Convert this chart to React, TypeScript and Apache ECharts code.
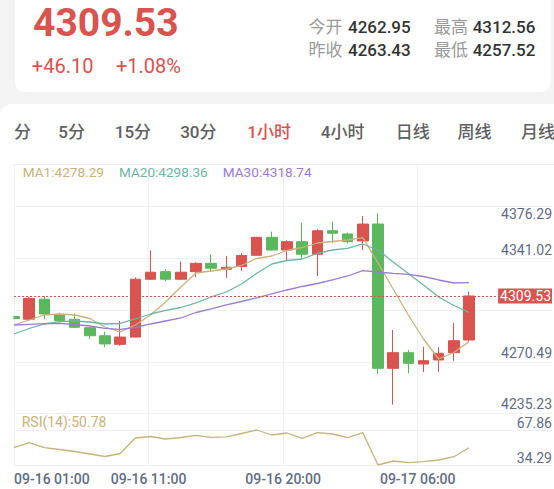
import React, { useEffect, useRef } from 'react';
import * as echarts from 'echarts';

const FONT = 'Roboto, "Noto Sans CJK SC", sans-serif';
const RED = '#d9534f';
const GREEN = '#5cb85c';
const TAN = '#c9b27c';
const TEAL = '#6db6a4';
const PURPLE = '#9a7dd3';
const AXIS_TEXT = '#5f6c88';
const GRID_LINE = '#f0f0f0';

// ---- data ----
const candleOpen = [4295.5, 4293.6, 4307.3, 4296.5, 4293.6, 4287.8, 4282.3, 4276.4, 4281.4, 4321.0, 4326.2, 4321.0, 4326.2, 4331.9, 4327.8, 4329.7, 4337.4, 4349.7, 4341.0, 4346.7, 4338.1, 4354.2, 4352.0, 4347.2, 4358.8, 4260.0, 4270.7, 4262.95, 4265.7, 4270.7, 4279.4];
const candleClose = [4294.1, 4307.9, 4297.2, 4292.6, 4288.1, 4282.3, 4276.7, 4281.4, 4321.0, 4325.8, 4321.0, 4325.8, 4331.9, 4328.5, 4329.2, 4337.3, 4349.7, 4341.0, 4346.7, 4338.1, 4354.2, 4352.5, 4346.7, 4358.8, 4260.0, 4270.7, 4263.43, 4265.2, 4270.3, 4278.9, 4309.53];
const candleLow = [4293.4, 4292.6, 4293.6, 4291.2, 4287.6, 4280.1, 4274.4, 4275.5, 4281.2, 4320.5, 4319.8, 4320.5, 4322.5, 4326.2, 4321.9, 4326.8, 4337.1, 4340.5, 4334.2, 4334.9, 4323.2, 4345.6, 4345.6, 4341.0, 4256.1, 4235.23, 4256.6, 4257.52, 4257.7, 4265.2, 4278.2];
const candleHigh = [4296.2, 4309.0, 4309.5, 4298.1, 4297.7, 4288.3, 4285.1, 4292.4, 4322.3, 4340.8, 4327.8, 4333.0, 4332.6, 4338.1, 4336.9, 4338.8, 4350.1, 4353.6, 4347.9, 4359.7, 4355.2, 4360.4, 4352.9, 4364.3, 4366.2, 4286.2, 4272.5, 4274.8, 4274.4, 4291.2, 4312.56];

const ma1 = [4289.66, 4293.08, 4296.51, 4297.19, 4296.51, 4294.11, 4288.29, 4284.87, 4289.66, 4296.51, 4305.41, 4315.68, 4325.27, 4326.64, 4328.01, 4330.41, 4335.2, 4336.91, 4340.68, 4342.73, 4345.81, 4346.84, 4347.87, 4349.44, 4332.12, 4314.31, 4296.51, 4280.07, 4266.38, 4270.83, 4278.29];
const ma20 = [4283.5, 4287.26, 4290.35, 4291.92, 4292.4, 4291.71, 4290.35, 4290.69, 4293.77, 4297.19, 4299.73, 4301.64, 4304.73, 4308.84, 4312.26, 4317.74, 4325.06, 4331.43, 4333.83, 4334.85, 4338.76, 4341.02, 4342.18, 4345.13, 4341.02, 4332.8, 4324.93, 4317.05, 4308.84, 4303.01, 4298.36];
const ma30 = [4289.66, 4290.14, 4290.55, 4290.82, 4290.0, 4288.98, 4287.4, 4286.72, 4287.95, 4290.35, 4292.4, 4294.46, 4298.22, 4300.62, 4303.36, 4305.75, 4308.29, 4310.89, 4313.63, 4316.03, 4318.08, 4320.48, 4323.22, 4326.84, 4325.95, 4325.06, 4324.38, 4322.87, 4320.48, 4318.42, 4318.74];
const rsi14 = [50.88, 55.68, 50.88, 49.16, 47.24, 44.84, 42.44, 45.32, 60.19, 61.63, 59.23, 60.67, 62.78, 60.86, 61.34, 64.5, 67.86, 63.06, 64.98, 59.9, 65.27, 64.02, 60.47, 65.27, 34.29, 38.13, 36.5, 37.46, 39.09, 42.25, 50.78];

const priceTickValues = [4235.23, 4270.49, 4341.02, 4376.29];
const timeTickLabels = ['09-16 01:00', '09-16 11:00', '09-16 20:00', '09-17 06:00'];

const dayOpen = 4262.95;
const prevClose = 4263.43;
const dayHigh = 4312.56;
const dayLow = 4257.52;

const tabs = ['分', '5分', '15分', '30分', '1小时', '4小时', '日线', '周线', '月线'];
const activeTab = '1小时';
const tabLeft = [14, 58.3, 114.8, 180.2, 247.3, 320.8, 395.7, 457.5, 521];

const fmt = (v: number) => v.toFixed(2);

function Chart() {
  const ref = useRef<HTMLDivElement>(null);
  useEffect(() => {
    if (!ref.current) return;
    const chart = echarts.init(ref.current, undefined, { renderer: 'svg' });
    const n = candleClose.length;
    const cats = candleClose.map((_, i) => String(i));
    const kData = candleOpen.map((o, i) => [o, candleClose[i], candleLow[i], candleHigh[i]]);
    const lastClose = candleClose[n - 1];
    const lastOf: Record<string, number> = {
      MA1: ma1[n - 1],
      MA20: ma20[n - 1],
      MA30: ma30[n - 1],
      'RSI(14)': rsi14[n - 1],
    };
    const rsiMin = Math.min(...rsi14);
    const rsiMax = Math.max(...rsi14);
    const topTick = Math.max(...priceTickValues);

    const hiddenAxis = {
      axisLine: { show: false },
      axisTick: { show: false },
      axisLabel: { show: false },
    };
    const lineSplit = (extra: any) => ({
      show: true,
      lineStyle: { color: GRID_LINE, width: 1 },
      ...extra,
    });

    const option: any = {
      animation: false,
      backgroundColor: 'transparent',
      textStyle: { fontFamily: FONT },
      grid: [
        { left: 14, width: 546, top: 164, height: 250, outerBoundsMode: 'none' },
        { left: 14, width: 546, top: 413, height: 52, outerBoundsMode: 'none' },
        { left: 14, width: 538.3, top: 164, height: 250, outerBoundsMode: 'none' },
        { left: 14, width: 538.3, top: 413, height: 52, outerBoundsMode: 'none' },
      ],
      // white mask left of the plot edge, so the first candle shows only its inner half
      graphic: [
        { type: 'rect', left: 0, top: 166, shape: { width: 13.5, height: 247 }, style: { fill: '#ffffff' }, z: 100, silent: true },
      ],
      legend: [
        {
          data: [
            { name: 'MA1', textStyle: { color: TAN } },
            { name: 'MA20', textStyle: { color: TEAL } },
            { name: 'MA30', textStyle: { color: PURPLE } },
          ],
          left: 17.7,
          top: 165.2,
          padding: 0,
          itemGap: 10,
          itemWidth: 0,
          itemHeight: 14,
          icon: 'none',
          selectedMode: false,
          textStyle: { fontSize: 13.6, lineHeight: 14, fontFamily: FONT },
          formatter: (name: string) => `${name}:${fmt(lastOf[name])}`,
        },
        {
          data: [{ name: 'RSI(14)', textStyle: { color: TAN } }],
          left: 16.7,
          top: 414.7,
          padding: 0,
          itemWidth: 0,
          itemHeight: 14,
          icon: 'none',
          selectedMode: false,
          textStyle: { fontSize: 14, lineHeight: 14, fontFamily: FONT },
          formatter: (name: string) => `${name}:${fmt(lastOf[name])}`,
        },
      ],
      xAxis: [
        { type: 'category', gridIndex: 0, data: cats, boundaryGap: false, max: 36, show: false },
        { type: 'category', gridIndex: 1, data: cats, boundaryGap: false, max: 36, show: false },
        {
          type: 'value', gridIndex: 2, min: 0, max: 4, interval: 1, ...hiddenAxis,
          splitLine: lineSplit({ showMaxLine: false }),
        },
        {
          type: 'value', gridIndex: 3, min: 0, max: 4, interval: 1,
          axisLine: { show: false },
          axisTick: { show: false },
          axisLabel: {
            show: true,
            margin: 7,
            color: AXIS_TEXT,
            fontSize: 14,
            fontWeight: 500,
            fontFamily: FONT,
            showMaxLabel: false,
            alignMinLabel: 'left',
            formatter: (v: number) => timeTickLabels[Math.round(v)] ?? '',
          },
          splitLine: lineSplit({ showMaxLine: false }),
        },
      ],
      yAxis: [
        {
          type: 'value', gridIndex: 0, position: 'right', min: 4228.71, max: 4399.91, z: 5,
          splitLine: { show: false }, axisLine: { show: false }, axisTick: { show: false },
          axisLabel: {
            inside: true,
            margin: 8,
            color: AXIS_TEXT,
            fontSize: 14,
            fontFamily: FONT,
            customValues: [...priceTickValues, lastClose],
            formatter: (v: number) => {
              const s = fmt(v);
              if (Math.abs(v - lastClose) < 1e-6) return `{p|${s}}`;
              if (Math.abs(v - topTick) < 1e-6) return `{t|${s}}`;
              return `{n|${s}}`;
            },
            rich: {
              n: { color: AXIS_TEXT, fontSize: 14, fontFamily: FONT },
              t: { color: AXIS_TEXT, fontSize: 14, fontFamily: FONT, padding: [31, 0, 0, 0] },
              p: { color: '#ffffff', backgroundColor: RED, fontSize: 14, fontFamily: FONT, padding: [1, 1, 0, 2] },
            },
          },
        },
        {
          type: 'value', gridIndex: 1, position: 'right', min: 34.29, max: 84.17, z: 5,
          splitLine: { show: false }, axisLine: { show: false }, axisTick: { show: false },
          axisLabel: {
            inside: true,
            margin: 8,
            color: AXIS_TEXT,
            fontSize: 14,
            fontFamily: FONT,
            verticalAlign: 'bottom',
            lineHeight: 15,
            customValues: [rsiMin, rsiMax],
            formatter: (v: number) => fmt(v),
          },
        },
        {
          type: 'value', gridIndex: 2, min: 0, max: 250 / 52, interval: 1, ...hiddenAxis,
          splitLine: lineSplit({ showMinLine: false, showMaxLine: false }),
        },
        {
          type: 'value', gridIndex: 3, min: 0, max: 52, interval: 35, ...hiddenAxis,
          splitLine: lineSplit({}),
        },
      ],
      series: [
        {
          type: 'candlestick',
          name: 'K',
          xAxisIndex: 0,
          yAxisIndex: 0,
          data: kData,
          barWidth: 11,
          clip: true,
          itemStyle: { color: RED, color0: GREEN, borderColor: RED, borderColor0: GREEN, borderWidth: 1 },
          markLine: {
            symbol: ['none', 'none'],
            silent: true,
            animation: false,
            label: { show: false },
            lineStyle: { color: RED, type: [2, 2], width: 1 },
            data: [{ yAxis: lastClose }],
          },
        },
        { type: 'line', name: 'MA1', xAxisIndex: 0, yAxisIndex: 0, data: ma1, symbol: 'none', clip: true, lineStyle: { color: TAN, width: 1.3 }, itemStyle: { color: TAN } },
        { type: 'line', name: 'MA20', xAxisIndex: 0, yAxisIndex: 0, data: ma20, symbol: 'none', clip: true, lineStyle: { color: TEAL, width: 1.3 }, itemStyle: { color: TEAL } },
        { type: 'line', name: 'MA30', xAxisIndex: 0, yAxisIndex: 0, data: ma30, symbol: 'none', clip: true, lineStyle: { color: PURPLE, width: 1.3 }, itemStyle: { color: PURPLE } },
        { type: 'line', name: 'RSI(14)', xAxisIndex: 1, yAxisIndex: 1, data: rsi14, symbol: 'none', clip: true, lineStyle: { color: TAN, width: 1.3 }, itemStyle: { color: TAN } },
      ],
    };
    chart.setOption(option);
    return () => chart.dispose();
  }, []);
  return <div ref={ref} style={{ position: 'absolute', left: 0, top: 0, width: 554, height: 489 }} />;
}

const abs = (left: number, top: number, size: number, color: string, weight = 400): React.CSSProperties => ({
  position: 'absolute',
  left,
  top,
  fontSize: size,
  lineHeight: `${size}px`,
  color,
  fontWeight: weight,
  whiteSpace: 'nowrap',
  fontFamily: FONT,
});

export default function App() {
  const last = candleClose[candleClose.length - 1];
  const change = last - prevClose;
  const pct = (change / prevClose) * 100;
  const sign = change >= 0 ? '+' : '';
  return (
    <div style={{ position: 'fixed', left: 0, top: 0, width: 554, height: 489, background: '#f4f4f4', overflow: 'hidden', fontFamily: FONT }}>
      <div style={{ position: 'absolute', left: 15, top: -12, width: 536, height: 104, background: '#fff', borderRadius: 10 }} />
      <div style={{ position: 'absolute', left: 0, top: 104, width: 600, height: 420, background: '#fff', borderRadius: 12 }} />
      <div style={{ position: 'absolute', left: 13, top: 164, width: 560, height: 1, background: '#efefef' }} />

      <div style={abs(33, 4.2, 39, RED, 700)}>{fmt(last)}</div>
      <div style={abs(31.8, 55.9, 20, RED)}>{sign}{fmt(change)}</div>
      <div style={abs(115.9, 55.9, 20, RED)}>{sign}{fmt(pct)}%</div>

      <div style={abs(308.4, 18.7, 17, '#9a9a9a')}>今开</div>
      <div style={abs(348, 18.7, 17, '#333', 500)}>{fmt(dayOpen)}</div>
      <div style={abs(433.9, 18.7, 17, '#9a9a9a')}>最高</div>
      <div style={abs(472.7, 18.7, 17, '#333', 500)}>{fmt(dayHigh)}</div>
      <div style={abs(308.4, 42.2, 17, '#9a9a9a')}>昨收</div>
      <div style={abs(348, 42.2, 17, '#333', 500)}>{fmt(prevClose)}</div>
      <div style={abs(433.9, 42.2, 17, '#9a9a9a')}>最低</div>
      <div style={abs(472.7, 42.2, 17, '#333', 500)}>{fmt(dayLow)}</div>

      {tabs.map((t, i) => (
        <div key={t} style={abs(tabLeft[i], 124.2, 17, t === activeTab ? RED : '#606060', 500)}>{t}</div>
      ))}

      <Chart />
    </div>
  );
}
